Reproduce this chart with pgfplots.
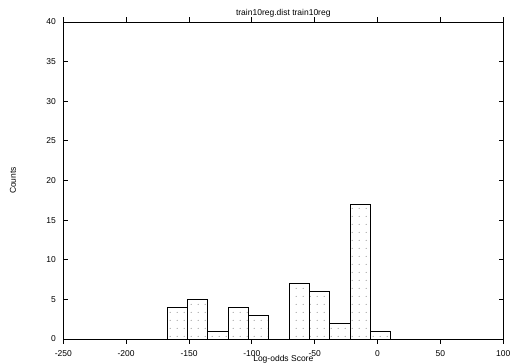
\documentclass[border=0pt]{standalone}
\usepackage{fontspec}
\setmainfont{Liberation Sans}
\usepackage{pgfplots}
\pgfplotsset{compat=1.18}
\usetikzlibrary{patterns}
\pgfdeclarepatternformonly{sparsedots}{\pgfpointorigin}{\pgfqpoint{6.7bp}{8bp}}{\pgfqpoint{6.7bp}{8bp}}{%
  \pgfpathcircle{\pgfqpoint{3.35bp}{4bp}}{0.6bp}\pgfusepath{fill}}
\begin{document}
\begin{tikzpicture}[font=\fontsize{8.5bp}{10bp}\selectfont]
\begin{axis}[
  scale only axis, width=440bp, height=317bp,
  xmin=-250, xmax=100, ymin=0, ymax=40,
  xtick={-250,-200,-150,-100,-50,0,50,100},
  xticklabels={-250,-200,-150,-100,-50,0,50,100},
  ytick={0,5,10,15,20,25,30,35,40},
  yticklabels={0,5,10,15,20,25,30,35,40},
  tick align=inside, tick pos=both, major tick length=4.5bp,
  axis line style={line width=0.9bp},
  every tick/.style={black, line width=0.9bp},
  xticklabel style={inner sep=0pt, anchor=north, yshift=-6.8bp},
  yticklabel style={inner sep=0pt, anchor=east, xshift=-7.3bp},
  axis on top,
  ybar, bar width=16.15, bar shift=0pt,
]
\addplot[draw=black, line width=0.9bp, pattern=sparsedots, pattern color=gray!85]
  coordinates {(-159.2,4) (-143.05,5) (-126.9,1) (-110.75,4) (-94.6,3)
               (-62.3,7) (-46.15,6) (-30,2) (-13.85,17) (2.3,1)};
\end{axis}
\node[anchor=base, inner sep=0pt] at (220bp,323.5bp) {train10reg.dist train10reg};
\node[anchor=base, inner sep=0pt] at (220bp,-22.6bp) {Log-odds Score};
\node[rotate=90, inner sep=0pt] at (-50.3bp,158.5bp) {Counts};
\pgfresetboundingbox
\path[use as bounding box] (-63.3bp,-25bp) rectangle (446.7bp,339bp);
\end{tikzpicture}
\end{document}
